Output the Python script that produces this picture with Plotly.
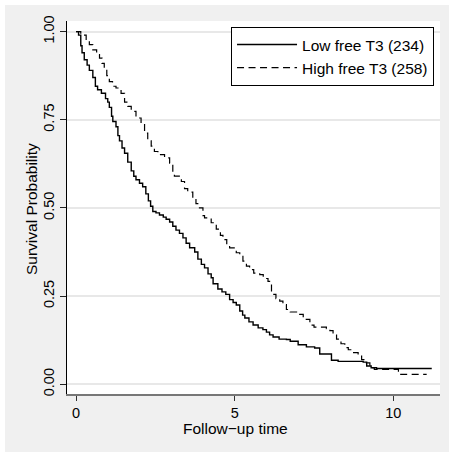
import plotly.graph_objects as go

# Kaplan-Meier estimates (time, survival)
low_time = [0, 0.08, 0.15, 0.19, 0.26, 0.35, 0.42, 0.53, 0.61, 0.68, 0.80, 0.93, 1.0, 1.05,
            1.12, 1.16, 1.26, 1.32, 1.37, 1.45, 1.53, 1.63, 1.74, 1.82, 1.89, 2.0, 2.1, 2.2,
            2.28, 2.35, 2.42, 2.52, 2.63, 2.75, 2.84, 2.95, 3.05, 3.15, 3.26, 3.37, 3.47,
            3.58, 3.74, 3.84, 3.95, 4.05, 4.16, 4.26, 4.32, 4.47, 4.60, 4.72, 4.84, 4.95,
            5.05, 5.16, 5.25, 5.32, 5.45, 5.58, 5.74, 5.89, 6.0, 6.1, 6.21, 6.4, 6.63, 6.75,
            7.0, 7.26, 7.52, 7.68, 8.05, 8.26, 9.05, 9.16, 9.3, 9.47, 11.21]
low_surv = [1.0, 0.99, 0.96, 0.94, 0.92, 0.905, 0.89, 0.87, 0.845, 0.835, 0.825, 0.81, 0.80,
            0.785, 0.76, 0.745, 0.73, 0.705, 0.69, 0.67, 0.655, 0.63, 0.605, 0.59, 0.58, 0.57,
            0.56, 0.54, 0.52, 0.505, 0.49, 0.486, 0.48, 0.474, 0.468, 0.46, 0.448, 0.437,
            0.428, 0.415, 0.40, 0.387, 0.375, 0.355, 0.34, 0.33, 0.313, 0.302, 0.285, 0.27,
            0.262, 0.255, 0.24, 0.232, 0.225, 0.208, 0.196, 0.188, 0.177, 0.168, 0.16, 0.155,
            0.148, 0.14, 0.134, 0.128, 0.127, 0.122, 0.112, 0.106, 0.103, 0.086, 0.068, 0.065,
            0.063, 0.052, 0.047, 0.045, 0.045]

high_time = [0, 0.15, 0.32, 0.42, 0.53, 0.65, 0.74, 0.82, 0.89, 0.97, 1.05, 1.15, 1.26, 1.42,
             1.53, 1.63, 1.74, 1.89, 2.05, 2.16, 2.26, 2.37, 2.47, 2.58, 2.79, 2.95, 3.05,
             3.10, 3.32, 3.42, 3.52, 3.68, 3.78, 3.89, 4.0, 4.05, 4.26, 4.42, 4.55, 4.63,
             4.75, 4.84, 5.05, 5.16, 5.26, 5.37, 5.47, 5.6, 5.79, 5.9, 6.05, 6.1, 6.16, 6.3,
             6.42, 6.52, 6.63, 6.75, 6.95, 7.16, 7.37, 7.5, 7.89, 8.0, 8.1, 8.21, 8.35, 8.47,
             8.58, 8.68, 8.89, 9.0, 9.1, 9.26, 9.4, 10.16, 11.05]
high_surv = [1.0, 0.99, 0.978, 0.963, 0.948, 0.935, 0.925, 0.91, 0.896, 0.875, 0.858, 0.845,
             0.84, 0.825, 0.80, 0.788, 0.774, 0.755, 0.74, 0.712, 0.69, 0.675, 0.66, 0.651,
             0.642, 0.627, 0.60, 0.59, 0.575, 0.555, 0.545, 0.528, 0.512, 0.50, 0.478, 0.472,
             0.458, 0.44, 0.422, 0.41, 0.395, 0.387, 0.373, 0.363, 0.349, 0.335, 0.325, 0.315,
             0.311, 0.30, 0.292, 0.283, 0.255, 0.243, 0.236, 0.226, 0.212, 0.205, 0.198, 0.184,
             0.168, 0.162, 0.158, 0.152, 0.142, 0.128, 0.115, 0.104, 0.098, 0.09, 0.08, 0.07,
             0.061, 0.047, 0.042, 0.028, 0.028]

series_names = ["Low free T3 (234)", "High free T3 (258)"]
x_ticks = [0, 5, 10]
y_ticks = [0, 0.25, 0.5, 0.75, 1.0]
y_tick_text = ["0.00", "0.25", "0.50", "0.75", "1.00"]
x_title = "Follow−up time"
y_title = "Survival Probability"

FONT = "Liberation Sans, Arial, Helvetica, sans-serif"

fig = go.Figure()
fig.add_trace(go.Scatter(x=low_time, y=low_surv, mode="lines", name=series_names[0],
                         line=dict(color="black", width=1.4, shape="hv")))
fig.add_trace(go.Scatter(x=high_time, y=high_surv, mode="lines", name=series_names[1],
                         line=dict(color="black", width=1.2, shape="hv", dash="7px,4.5px")))

# thin white strips at top and left edge of the image
fig.add_shape(type="rect", xref="paper", yref="paper", x0=-0.2, x1=1.05, y0=1.0429, y1=1.07,
              fillcolor="white", line_width=0, layer="above")
fig.add_shape(type="rect", xref="paper", yref="paper", x0=-0.2, x1=-0.1662, y0=-0.2, y1=1.07,
              fillcolor="white", line_width=0, layer="above")

# axis titles
fig.add_annotation(text=x_title, xref="paper", yref="paper", x=(235 - 67) / 373,
                   y=(394 - 428) / 373, xanchor="center", yanchor="middle",
                   showarrow=False, font=dict(size=15.5))
fig.add_annotation(text=y_title, xref="paper", yref="paper", x=(31 - 67) / 373,
                   y=(394 - 209) / 373, xanchor="center", yanchor="middle",
                   textangle=-90, showarrow=False, font=dict(size=15.5))

fig.update_layout(
    width=449, height=452,
    margin=dict(l=67, r=9, t=21, b=58),
    paper_bgcolor="#f0f0f0",
    plot_bgcolor="white",
    font=dict(family=FONT, size=15.5, color="black"),
    showlegend=True,
    legend=dict(x=0.984, y=0.984, xanchor="right", yanchor="top",
                bgcolor="white", bordercolor="black", borderwidth=1,
                font=dict(size=15.5), itemwidth=60, tracegroupgap=0),
    xaxis=dict(range=[-0.284, 11.47], tickvals=x_ticks, ticks="outside", ticklen=5,
               tickcolor="#333", showgrid=False, zeroline=False, showline=True,
               linecolor="#777", linewidth=2, tickfont=dict(size=14.5)),
    yaxis=dict(range=[-0.0275, 1.030], tickvals=y_ticks, ticktext=y_tick_text,
               tickangle=-90, ticks="outside", ticklen=6, tickcolor="#222",
               showgrid=True, gridcolor="#e8e8e8", gridwidth=1.5, zeroline=False,
               showline=True, linecolor="black", linewidth=1.3,
               tickfont=dict(size=14.5)),
)

fig.write_html("out.html")
